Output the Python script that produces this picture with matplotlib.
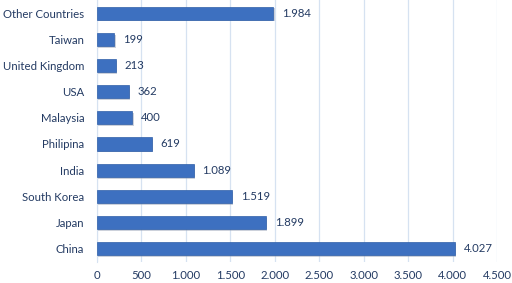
import matplotlib.pyplot as plt

countries = ['China', 'Japan', 'South Korea', 'India', 'Philipina', 'Malaysia',
             'USA', 'United Kingdom', 'Taiwan', 'Other Countries']
values = [4027, 1899, 1519, 1089, 619, 400, 362, 213, 199, 1984]
xticks = [0, 500, 1000, 1500, 2000, 2500, 3000, 3500, 4000, 4500]

text_color = '#243b63'
bar_color = '#3d70c0'
grid_color = '#d6e2f1'

plt.rcParams['font.family'] = ['Lato', 'DejaVu Sans']

def fmt(v):
    return f'{v:,}'.replace(',', '.')

fig = plt.figure(figsize=(5.12, 2.83), dpi=100)
ax = fig.add_axes([0.189, 0.075, 0.782, 0.925])

y = list(range(len(countries)))
# soft shadow under each bar
ax.barh([i - 0.07 for i in y], values, height=0.5, left=15, color='#8f9bb0',
        alpha=0.45, zorder=2)
ax.barh(y, values, height=0.5, color=bar_color, edgecolor='#2f5fa8',
        linewidth=0.5, zorder=3)

for i, v in enumerate(values):
    ax.text(v + 100, i, fmt(v), va='center', ha='left', fontsize=8.2,
            color=text_color, zorder=4)

ax.set_xlim(0, 4500)
ax.set_ylim(-0.5, len(countries) - 0.5)
ax.set_yticks(y)
ax.set_yticklabels(countries, fontsize=8.2, color=text_color)
ax.set_xticks(xticks)
ax.set_xticklabels([fmt(t) for t in xticks], fontsize=8.2, color=text_color)
ax.tick_params(length=0, pad=6)
ax.tick_params(axis='y', pad=9)
ax.grid(axis='x', color=grid_color, linewidth=0.9, zorder=0)
ax.set_axisbelow(True)
for s in ['top', 'right', 'bottom']:
    ax.spines[s].set_visible(False)
ax.spines['left'].set_color(grid_color)

fig.savefig('out.png', dpi=100)
